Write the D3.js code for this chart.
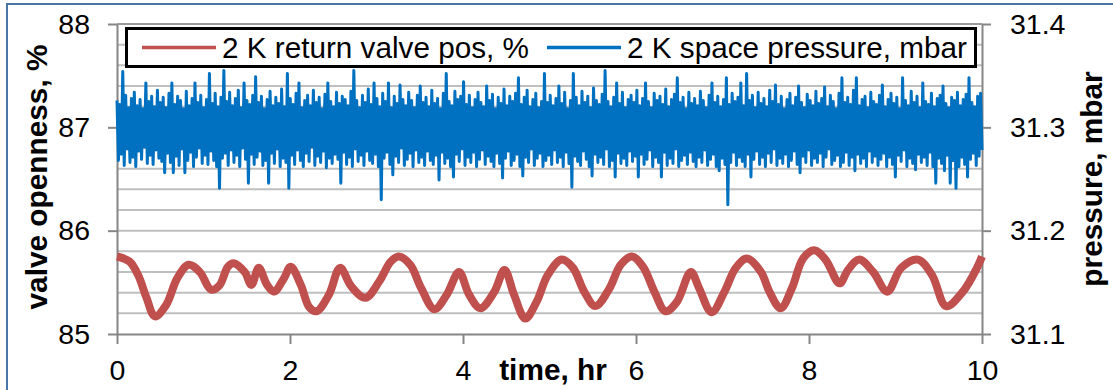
<!DOCTYPE html>
<html><head><meta charset="utf-8">
<script src="https://cdn.jsdelivr.net/npm/d3@7"></script>
<style>
html,body{margin:0;padding:0;background:#fff;}
svg{display:block;font-family:"Liberation Sans",Arial,sans-serif;}
</style></head>
<body>
<svg id="c" width="1113" height="390"></svg>
<script>
// ---------- DATA ----------
const xTicks = [0, 2, 4, 6, 8, 10];
const leftTicks = [85, 86, 87, 88];
const rightTicks = [31.1, 31.2, 31.3, 31.4];
const seriesNames = ["2 K return valve pos, %", "2 K space pressure, mbar"];

// 2 K return valve position (%), read at turning points of the trace
const valveTime = [0,0.146,0.244,0.341,0.438,0.568,0.697,0.828,0.957,1.087,1.184,1.281,1.347,1.476,1.554,1.638,1.735,1.814,1.931,2.008,2.125,2.222,2.306,2.45,2.579,2.709,2.871,3.033,3.163,3.26,3.39,3.519,3.669,3.812,3.954,4.071,4.201,4.363,4.48,4.59,4.72,4.85,4.979,5.141,5.272,5.401,5.531,5.692,5.823,5.953,6.082,6.212,6.341,6.472,6.634,6.731,6.874,7.023,7.153,7.283,7.445,7.542,7.672,7.801,7.931,8.061,8.191,8.353,8.451,8.58,8.742,8.904,9.066,9.261,9.423,9.585,9.779,9.942,10];
const valvePos = [85.75,85.70,85.57,85.35,85.17,85.28,85.54,85.67,85.60,85.43,85.47,85.65,85.685,85.60,85.475,85.64,85.475,85.41,85.54,85.65,85.475,85.26,85.22,85.38,85.64,85.46,85.35,85.51,85.70,85.75,85.67,85.44,85.24,85.38,85.60,85.38,85.25,85.41,85.62,85.38,85.15,85.31,85.57,85.72,85.64,85.41,85.27,85.44,85.67,85.75,85.65,85.41,85.22,85.31,85.60,85.44,85.21,85.41,85.64,85.73,85.60,85.41,85.25,85.44,85.73,85.81,85.72,85.49,85.62,85.72,85.60,85.41,85.64,85.72,85.57,85.27,85.41,85.64,85.75];

// 2 K space pressure (mbar): upper and lower excursions of the noisy trace, in order
const pressureHigh = [
31.326,31.322,31.354,31.331,31.319,31.328,31.334,31.321,31.327,31.318,31.343,31.325,31.330,31.320,31.336,31.324,31.329,31.319,31.333,31.343,
31.322,31.330,31.326,31.318,31.335,31.321,31.328,31.343,31.324,31.331,31.319,31.327,31.352,31.323,31.333,31.320,31.329,31.355,31.325,31.334,
31.321,31.328,31.336,31.319,31.343,31.326,31.322,31.331,31.349,31.324,31.330,31.318,31.327,31.335,31.321,31.329,31.323,31.337,31.320,31.352,
31.328,31.322,31.333,31.343,31.319,31.326,31.331,31.321,31.336,31.324,31.329,31.318,31.332,31.343,31.325,31.320,31.334,31.323,31.330,31.327,
31.321,31.335,31.355,31.326,31.319,31.331,31.324,31.337,31.322,31.343,31.328,31.320,31.333,31.325,31.343,31.319,31.330,31.323,31.341,31.327,
31.321,31.334,31.326,31.319,31.331,31.340,31.324,31.329,31.320,31.336,31.323,31.328,31.318,31.333,31.352,31.325,31.321,31.335,31.327,31.330,
31.344,31.322,31.331,31.319,31.327,31.334,31.324,31.320,31.340,31.326,31.332,31.318,31.329,31.323,31.337,31.321,31.330,31.325,31.333,31.348,
31.322,31.329,31.336,31.320,31.327,31.333,31.319,31.325,31.352,31.324,31.331,31.321,31.328,31.340,31.323,31.334,31.318,31.326,31.352,31.329,
31.321,31.335,31.324,31.330,31.319,31.338,31.326,31.322,31.332,31.355,31.325,31.320,31.329,31.343,31.323,31.334,31.319,31.327,31.331,31.324,
31.336,31.321,31.328,31.343,31.325,31.319,31.333,31.326,31.330,31.322,31.337,31.320,31.327,31.332,31.348,31.324,31.329,31.318,31.334,31.323,
31.328,31.321,31.335,31.326,31.319,31.331,31.343,31.324,31.330,31.320,31.327,31.348,31.322,31.333,31.325,31.329,31.343,31.321,31.352,31.326,
31.331,31.319,31.334,31.323,31.328,31.320,31.336,31.325,31.341,31.322,31.330,31.318,31.327,31.333,31.321,31.329,31.340,31.324,31.319,31.332,
31.326,31.321,31.335,31.323,31.328,31.339,31.320,31.331,31.325,31.318,31.333,31.348,31.324,31.329,31.322,31.336,31.348,31.321,31.327,31.330,
31.319,31.334,31.325,31.322,31.331,31.341,31.320,31.327,31.333,31.323,31.329,31.318,31.348,31.326,31.321,31.335,31.324,31.330,31.319,31.343,
31.325,31.322,31.333,31.320,31.328,31.331,31.340,31.323,31.319,31.329,31.326,31.334,31.321,31.327,31.332,31.348,31.324,31.320,31.330,31.333];
const pressureLow = [
31.268,31.274,31.263,31.279,31.266,31.271,31.262,31.277,31.269,31.281,31.265,31.273,31.264,31.278,31.270,31.267,31.256,31.275,31.266,31.256,
31.272,31.263,31.279,31.256,31.268,31.276,31.262,31.271,31.280,31.265,31.273,31.264,31.277,31.268,31.262,31.241,31.270,31.275,31.263,31.278,
31.266,31.273,31.262,31.280,31.269,31.246,31.274,31.264,31.271,31.277,31.263,31.268,31.246,31.275,31.265,31.279,31.262,31.270,31.266,31.241,
31.273,31.264,31.278,31.268,31.262,31.275,31.267,31.281,31.263,31.272,31.266,31.277,31.261,31.270,31.265,31.274,31.269,31.246,31.276,31.264,
31.271,31.262,31.279,31.267,31.273,31.263,31.277,31.268,31.265,31.274,31.262,31.230,31.270,31.276,31.264,31.254,31.272,31.266,31.280,31.263,
31.269,31.275,31.262,31.278,31.266,31.271,31.263,31.277,31.268,31.264,31.273,31.249,31.276,31.265,31.270,31.262,31.252,31.274,31.267,31.279,
31.263,31.271,31.266,31.276,31.262,31.269,31.278,31.264,31.272,31.267,31.262,31.275,31.265,31.251,31.270,31.277,31.263,31.268,31.274,31.262,
31.253,31.271,31.266,31.279,31.263,31.270,31.275,31.262,31.268,31.273,31.264,31.278,31.266,31.271,31.262,31.276,31.265,31.242,31.272,31.267,
31.263,31.277,31.269,31.262,31.253,31.274,31.266,31.271,31.264,31.279,31.262,31.268,31.252,31.275,31.265,31.270,31.263,31.277,31.267,31.272,
31.252,31.274,31.264,31.269,31.278,31.262,31.271,31.266,31.252,31.276,31.263,31.270,31.265,31.279,31.262,31.268,31.273,31.264,31.276,31.267,
31.262,31.271,31.266,31.278,31.263,31.269,31.274,31.262,31.258,31.270,31.264,31.225,31.266,31.276,31.263,31.271,31.267,31.262,31.274,31.252,
31.269,31.277,31.264,31.271,31.262,31.275,31.266,31.279,31.263,31.270,31.265,31.274,31.262,31.268,31.277,31.264,31.256,31.272,31.266,31.278,
31.263,31.270,31.266,31.275,31.262,31.271,31.279,31.264,31.268,31.273,31.262,31.266,31.276,31.263,31.271,31.258,31.274,31.265,31.270,31.262,
31.277,31.266,31.272,31.263,31.269,31.275,31.262,31.271,31.264,31.252,31.273,31.267,31.278,31.262,31.270,31.265,31.259,31.274,31.266,31.271,
31.263,31.276,31.262,31.246,31.270,31.265,31.258,31.273,31.246,31.268,31.241,31.262,31.271,31.264,31.252,31.269,31.275,31.263,31.272,31.278];

// ---------- CHART ----------
const svg = d3.select("#c");
const colRed = "#C0504D", colBlue = "#0070C0";
const axisCol = "#868686", gridCol = "#BFBFBF";
const FS_TICK = 28.5, FS_LEG = 29.7, FS_TITLE = 29.8;

const x = d3.scaleLinear().domain([0, 10]).range([117, 982]);
const yL = d3.scaleLinear().domain([85, 88]).range([334, 24]);
const yR = d3.scaleLinear().domain([31.1, 31.4]).range([334, 24]);

// outer frame (blue border of the chart object)
svg.append("path").attr("d", "M7,390 L7,4 L1113,4")
  .attr("fill", "none").attr("stroke", "#4A76A8").attr("stroke-width", 2);

// gridlines
svg.append("g").selectAll("line").data(yL.ticks(15).filter(v => v > 85))
  .join("line")
  .attr("x1", x(0)).attr("x2", x(10))
  .attr("y1", d => yL(d)).attr("y2", d => yL(d))
  .attr("stroke", d => d >= 88 ? "#9A9A9A" : gridCol).attr("stroke-width", 2);

// axes
function styleAxis(g) {
  g.select(".domain").attr("stroke", axisCol).attr("stroke-width", 2);
  g.selectAll(".tick line").attr("stroke", axisCol).attr("stroke-width", 2);
  g.selectAll(".tick text").attr("fill", "#000").attr("font-size", FS_TICK)
    .attr("font-family", '"Liberation Sans",Arial,sans-serif');
}
svg.append("g").attr("transform", "translate(117,0)")
  .call(d3.axisLeft(yL).tickValues(leftTicks).tickFormat(d3.format("d"))
    .tickSize(9).tickSizeOuter(0).tickPadding(18))
  .call(styleAxis);
svg.append("g").attr("transform", "translate(982,0)")
  .call(d3.axisRight(yR).tickValues(rightTicks).tickFormat(d3.format(".1f"))
    .tickSize(9).tickSizeOuter(0).tickPadding(19))
  .call(styleAxis);
svg.append("g").attr("transform", "translate(0,334)")
  .call(d3.axisBottom(x).tickValues(xTicks).tickFormat(d3.format("d"))
    .tickSize(10).tickSizeOuter(0).tickPadding(16))
  .call(styleAxis);

// pressure series (interleaved excursions)
const pressurePts = [];
pressureHigh.forEach((h, i) => { pressurePts.push(h); pressurePts.push(pressureLow[i]); });
const pTime = d3.scaleLinear().domain([0, pressurePts.length - 1]).range([0, 10]);
svg.append("path")
  .datum(pressurePts)
  .attr("fill", "none").attr("stroke", colBlue).attr("stroke-width", 3)
  .attr("stroke-linejoin", "round")
  .attr("d", d3.line().x((d, i) => x(pTime(i))).y(d => yR(d)));

// valve series
svg.append("path")
  .datum(valveTime.map((t, i) => [t, valvePos[i]]))
  .attr("fill", "none").attr("stroke", colRed).attr("stroke-width", 8)
  .attr("stroke-linejoin", "round")
  .attr("d", d3.line().curve(d3.curveCatmullRom.alpha(0.5)).x(d => x(d[0])).y(d => yL(d[1])));

// axis titles
svg.append("text").attr("transform", `translate(47,${(24 + 334) / 2 - 2}) rotate(-90)`)
  .attr("text-anchor", "middle").attr("font-weight", "bold").attr("font-size", FS_TITLE)
  .text("valve openness, %");
svg.append("text").attr("transform", `translate(1102,${(24 + 334) / 2}) rotate(-90)`)
  .attr("text-anchor", "middle").attr("font-weight", "bold").attr("font-size", FS_TITLE)
  .text("pressure, mbar");
svg.append("text").attr("x", 553).attr("y", 380)
  .attr("text-anchor", "middle").attr("font-weight", "bold").attr("font-size", FS_TITLE)
  .text("time, hr");

// legend
const lg = svg.append("g");
lg.append("rect").attr("x", 126.5).attr("y", 28.5).attr("width", 849).attr("height", 38)
  .attr("fill", "#fff").attr("stroke", "#000").attr("stroke-width", 3);
const legendItems = [
  { name: seriesNames[0], color: colRed, x0: 142 },
  { name: seriesNames[1], color: colBlue, x0: 547 }
];
legendItems.forEach(it => {
  lg.append("line").attr("x1", it.x0).attr("x2", it.x0 + 74).attr("y1", 47.5).attr("y2", 47.5)
    .attr("stroke", it.color).attr("stroke-width", 3.5);
  lg.append("text").attr("x", it.x0 + 80).attr("y", 57.5).attr("font-size", FS_LEG)
    .text(it.name);
});
</script>
</body></html>
